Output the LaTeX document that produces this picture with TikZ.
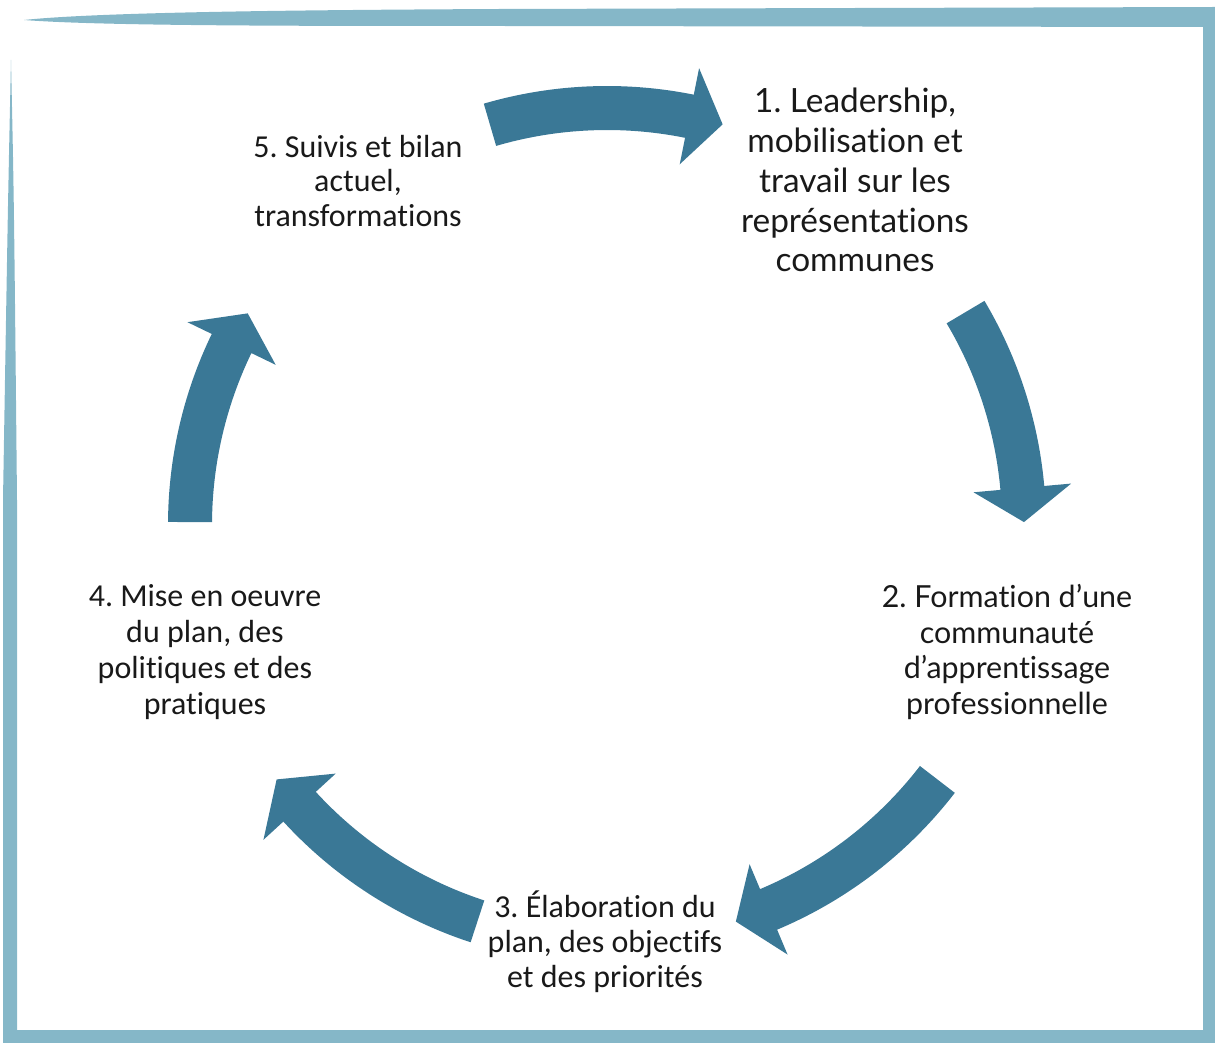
\documentclass[tikz,border=0pt]{standalone}
\usepackage{fontspec}
\setmainfont[Ligatures=NoCommon]{Carlito}
\newfontfamily\avfont[Ligatures=NoCommon]{Lato}
\frenchspacing
\definecolor{cyclearrowcol}{RGB}{58,120,150}
\definecolor{framecol}{RGB}{133,183,200}
\tikzset{
  stage/.style={align=center, inner sep=0pt, text=black!90},
  avstage/.style={stage, font=\avfont\fontsize{19}{22.7}\selectfont},
  cbstage/.style={stage, font=\fontsize{18.2}{19.9}\selectfont},
  cyclearrow/.style={fill=cyclearrowcol}
}
\begin{document}
\begin{tikzpicture}[x=0.02cm, y=0.02cm]
	    \useasboundingbox (0,0) rectangle (1215,-1043);
	    \fill[framecol] (24,-20) .. controls (100,-12) and (300,-10) .. (500,-9) -- (1215,-7) -- (1215,-27) -- (500,-26) .. controls (300,-26) and (100,-26) .. (24,-20) -- cycle;
	    \fill[framecol] (1203,-7) rectangle (1215,-1043);
	    \fill[framecol] (3,-1030) rectangle (1215,-1043);
	    \fill[framecol] (11,-60) .. controls (8,-200) .. (3,-500) -- (3,-1043) -- (17,-1043) -- (17,-500) .. controls (14,-200) .. (11,-60) -- cycle;
		
	    \foreach \t/\b/\p in {106.3/78.6/73.9, 30.7/5.1/0.4, -37.6/-67.2/-72, -108.1/-137.5/-142.4, 179.6/154.2/149.5}
		\fill[cyclearrow, shift={(607,-525)}] (\t:439) arc[start angle=\t, end angle=\b, radius=439] -- (\b:466) -- (\p:417) -- (\b:368) -- (\b:395) arc[start angle=\b, end angle=\t, radius=395] -- cycle;
		
	    \node[avstage] (lead) at (855,-180) {1. Leadership,\\mobilisation et\\travail sur les\\représentations\\communes};
	    \node[avstage, font=\avfont\fontsize{17.3}{20.4}\selectfont] (comm) at (1007,-652) {2. Formation d’une\\communauté\\d’apprentissage\\professionnelle};
	    \node[cbstage] (plan) at (605,-942) {3. Élaboration du\\plan, des objectifs\\et des priorités};
	    \node[cbstage, font=\fontsize{18.2}{20.4}\selectfont] (mise) at (205,-652) {4. Mise en oeuvre\\du plan, des\\politiques et des\\pratiques};
	    \node[cbstage] (suivi) at (358,-181) {5. Suivis et bilan\\actuel,\\transformations};
	\end{tikzpicture}
\end{document}
